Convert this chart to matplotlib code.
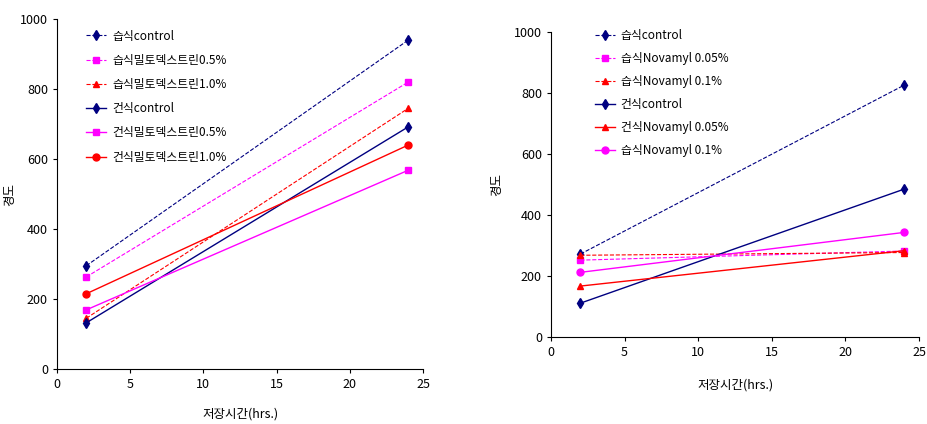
import matplotlib
matplotlib.use("Agg")
import matplotlib.pyplot as plt

plt.rcParams['font.family'] = ['Noto Sans CJK KR', 'DejaVu Sans']

hours = [2, 24]

# left chart: 밀토덱스트린
left_labels = ["습식control", "습식밀토덱스트린0.5%", "습식밀토덱스트린1.0%",
               "건식control", "건식밀토덱스트린0.5%", "건식밀토덱스트린1.0%"]
left_values = [[295, 940], [263, 820], [145, 745],
               [132, 692], [169, 568], [215, 640]]

# right chart: Novamyl
right_labels = ["습식control", "습식Novamyl 0.05%", "습식Novamyl 0.1%",
                "건식control", "건식Novamyl 0.05%", "습식Novamyl 0.1%"]
right_values = [[272, 826], [252, 282], [268, 277],
                [111, 485], [167, 283], [212, 343]]

left_styles = [("#000080", "--", "d"), ("#FF00FF", "--", "s"), ("#FF0000", "--", "^"),
               ("#000080", "-", "d"), ("#FF00FF", "-", "s"), ("#FF0000", "-", "o")]
right_styles = [("#000080", "--", "d"), ("#FF00FF", "--", "s"), ("#FF0000", "--", "^"),
                ("#000080", "-", "d"), ("#FF0000", "-", "^"), ("#FF00FF", "-", "o")]

fig = plt.figure(figsize=(9.27, 4.24), dpi=100)
ax1 = fig.add_axes([0.0615, 0.1297, 0.3948, 0.8255])
ax2 = fig.add_axes([0.5944, 0.2052, 0.397, 0.7193])


def draw(ax, labels, values, styles, xpad, ypad):
    for lab, vals, (c, ls, m) in zip(labels, values, styles):
        ax.plot(hours, vals, color=c, linestyle=ls, marker=m, markersize=5,
                linewidth=0.8 if ls == "--" else 1.0, label=lab)
    ax.set_xlim(0, 25)
    ax.set_ylim(0, 1000)
    ax.set_xticks([0, 5, 10, 15, 20, 25])
    ax.set_yticks([0, 200, 400, 600, 800, 1000])
    for s in ["top", "right"]:
        ax.spines[s].set_visible(False)
    ax.tick_params(labelsize=9, length=3, width=0.8)
    ax.set_xlabel("저장시간(hrs.)", fontsize=9, labelpad=xpad)
    ax.set_ylabel("경도", fontsize=9, labelpad=ypad)


draw(ax1, left_labels, left_values, left_styles, 12, 3)
draw(ax2, right_labels, right_values, right_styles, 14, 8)
ax1.legend(loc="upper left", bbox_to_anchor=(0.05, 1.0), frameon=False,
           fontsize=8.5, handlelength=1.7, labelspacing=0.95,
           handletextpad=0.5)
ax2.legend(loc="upper left", bbox_to_anchor=(0.09, 1.045), frameon=False,
           fontsize=8.5, handlelength=1.7, labelspacing=0.85,
           handletextpad=0.5)

fig.savefig("out.png", dpi=100)
